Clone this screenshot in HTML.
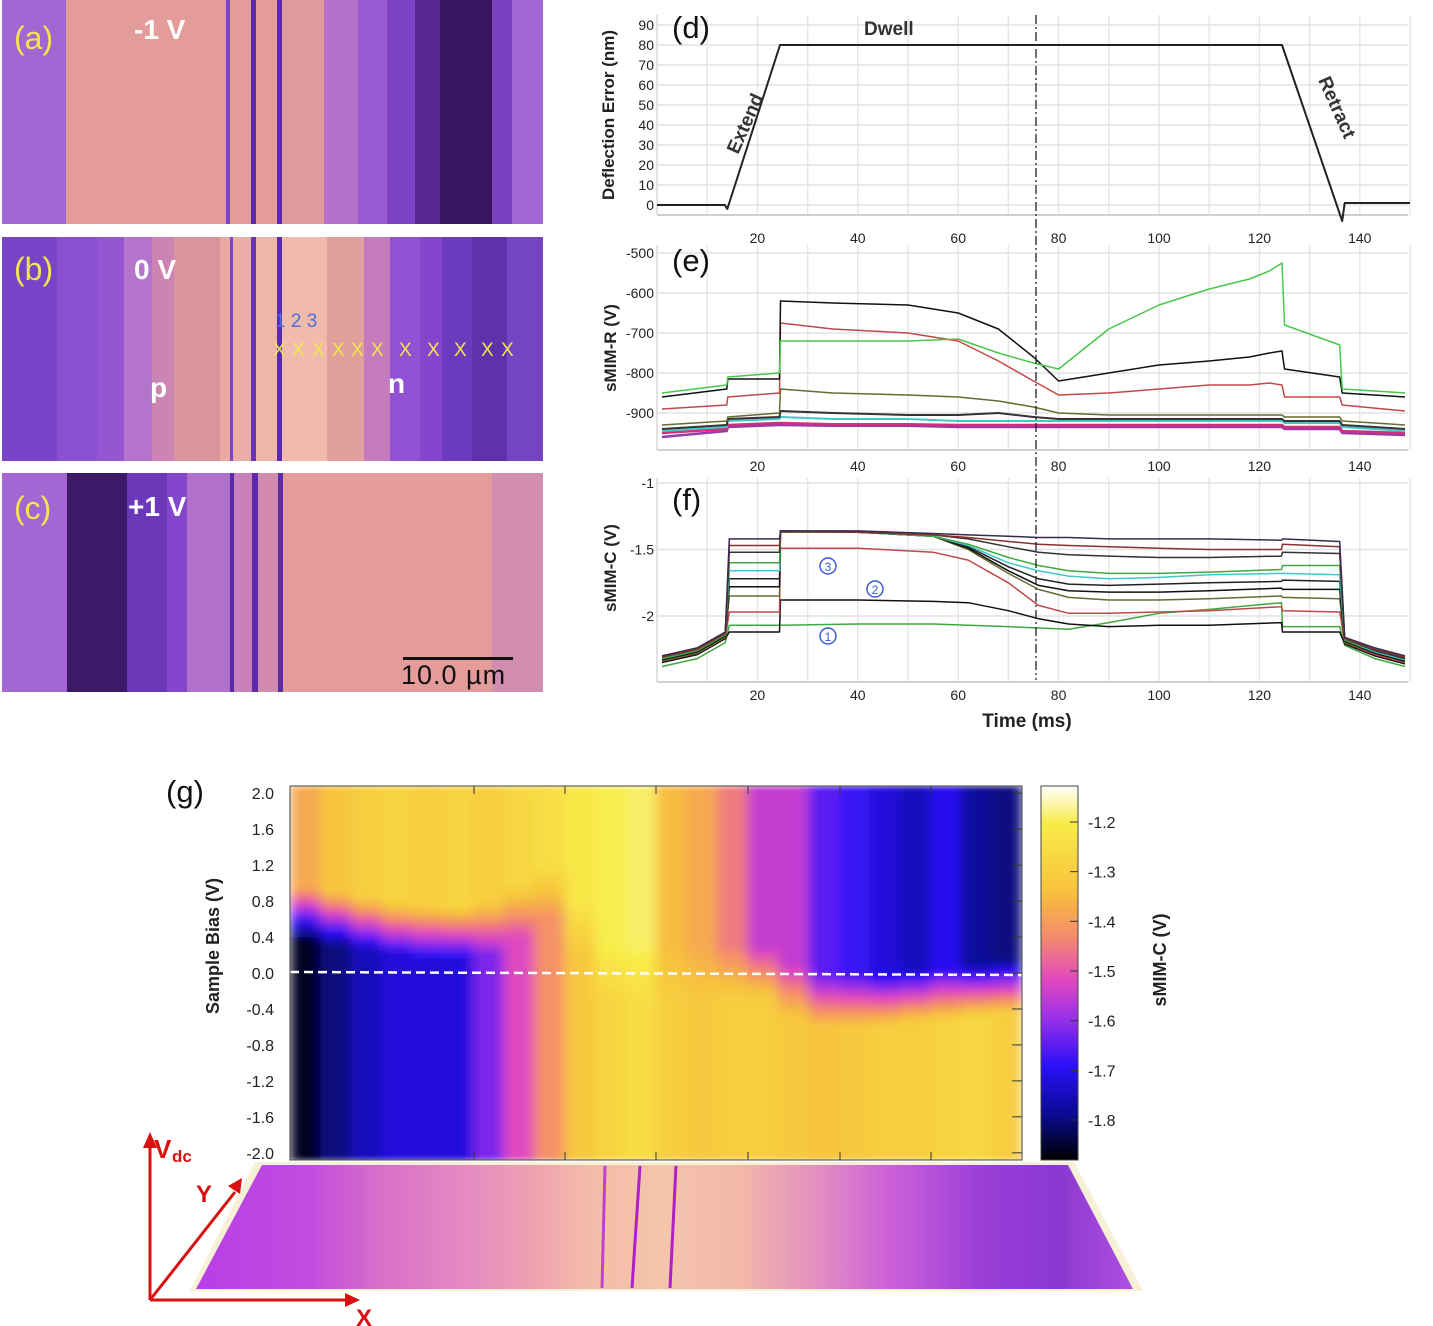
<!DOCTYPE html>
<html><head><meta charset="utf-8">
<style>
body{margin:0;background:#fff;}
#root{position:relative;width:1433px;height:1326px;overflow:hidden;font-family:"Liberation Sans",sans-serif;background:#fff;}
.img{position:absolute;left:2px;width:541px;}
.lbl{position:absolute;font-size:32px;color:#f3e64a;}
.wt{position:absolute;font-size:28px;font-weight:bold;color:#fff;}
.xm{position:absolute;top:340px;font-size:19px;color:#f3e64a;}
svg text{font-family:"Liberation Sans",sans-serif;}
</style></head><body>
<div id="root">
<div class="img" style="top:0;height:224px;background:linear-gradient(90deg,#a466d2 0,#a466d2 64px,#e39c9a 64px,#e39c9a 224px,#7b45c8 224px,#7b45c8 228px,#e39c9a 228px,#e39c9a 249px,#5a2aa8 249px,#5a2aa8 254px,#e39c9a 254px,#e39c9a 275px,#5a2aa8 275px,#5a2aa8 280px,#e09a9c 280px,#e09a9c 322px,#b472cc 322px,#b472cc 356px,#9a5ad4 356px,#9a5ad4 385px,#7e42c6 385px,#7e42c6 413px,#55278f 413px,#55278f 438px,#361660 438px,#361660 490px,#7a40c0 490px,#7a40c0 510px,#a466d2 510px);"></div>
<div class="img" style="top:237px;height:224px;background:linear-gradient(90deg,#7844c8 0,#7844c8 55px,#8a50d2 55px,#8a50d2 95px,#9656d2 95px,#9656d2 122px,#b474cc 122px,#b474cc 150px,#cc84b2 150px,#cc84b2 172px,#d9949e 172px,#d9949e 218px,#e9aaa4 218px,#e9aaa4 228px,#7b45c8 228px,#7b45c8 231px,#eaaea6 231px,#eaaea6 249px,#6a36b8 249px,#6a36b8 254px,#eeb6aa 254px,#eeb6aa 275px,#5a2aa8 275px,#5a2aa8 280px,#f1baae 280px,#f1baae 325px,#e0a09c 325px,#e0a09c 362px,#c47cbe 362px,#c47cbe 388px,#9052d2 388px,#9052d2 418px,#8446cc 418px,#8446cc 440px,#6c3abc 440px,#6c3abc 470px,#5e32aa 470px,#5e32aa 505px,#7444c2 505px);"></div>
<div class="img" style="top:473px;height:219px;background:linear-gradient(90deg,#a466d2 0,#a466d2 65px,#3c1a68 65px,#3c1a68 125px,#6a38b8 125px,#6a38b8 165px,#8446cc 165px,#8446cc 185px,#b070cc 185px,#b070cc 228px,#5a2aa8 228px,#5a2aa8 232px,#c880b8 232px,#c880b8 250px,#5a2aa8 250px,#5a2aa8 256px,#d28aae 256px,#d28aae 276px,#5a2aa8 276px,#5a2aa8 281px,#e39c9a 281px,#e39c9a 490px,#d28eb0 490px);"></div>
<div class="lbl" style="left:14px;top:20px;">(a)</div>
<div class="wt" style="left:134px;top:14px;">-1 V</div>
<div class="lbl" style="left:14px;top:251px;">(b)</div>
<div class="wt" style="left:134px;top:254px;">0 V</div>
<div class="wt" style="left:150px;top:372px;">p</div>
<div class="wt" style="left:388px;top:368px;">n</div>
<div style="position:absolute;left:275px;top:311px;font-size:19px;color:#4a70d8;white-space:pre;">1 2 3</div>
<div class="xm" style="left:273px;">X</div>
<div class="xm" style="left:292px;">X</div>
<div class="xm" style="left:312px;">X</div>
<div class="xm" style="left:332px;">X</div>
<div class="xm" style="left:351px;">X</div>
<div class="xm" style="left:371px;">X</div>
<div class="xm" style="left:399px;">X</div>
<div class="xm" style="left:427px;">X</div>
<div class="xm" style="left:454px;">X</div>
<div class="xm" style="left:481px;">X</div>
<div class="xm" style="left:501px;">X</div>
<div class="lbl" style="left:14px;top:490px;">(c)</div>
<div class="wt" style="left:128px;top:491px;">+1 V</div>
<div style="position:absolute;left:403px;top:657px;width:110px;height:3px;background:#111;"></div>
<div style="position:absolute;left:401px;top:660px;font-size:27px;letter-spacing:1px;color:#111;">10.0 µm</div>

<svg id="chart" width="1433" height="1326" style="position:absolute;left:0;top:0">
<defs>
<linearGradient id="cbar" x1="0" y1="0" x2="0" y2="1">
<stop offset="0" stop-color="#ffffff"/><stop offset="0.1" stop-color="#f8ec48"/><stop offset="0.28" stop-color="#f7c23c"/><stop offset="0.4" stop-color="#f58c6a"/><stop offset="0.52" stop-color="#e048c0"/><stop offset="0.62" stop-color="#9a30e8"/><stop offset="0.75" stop-color="#2a10f8"/><stop offset="0.88" stop-color="#0a0a90"/><stop offset="1" stop-color="#000000"/>
</linearGradient>
<linearGradient id="persp" x1="0" y1="0" x2="1" y2="0">
<stop offset="0" stop-color="#b83ee6"/><stop offset="0.12" stop-color="#c24ce0"/><stop offset="0.2" stop-color="#d870c8"/><stop offset="0.28" stop-color="#e488c4"/><stop offset="0.36" stop-color="#eea0b0"/><stop offset="0.42" stop-color="#f3bca8"/><stop offset="0.5" stop-color="#f5c4ac"/><stop offset="0.58" stop-color="#f2b8a8"/><stop offset="0.66" stop-color="#e490c0"/><stop offset="0.74" stop-color="#cc60d8"/><stop offset="0.84" stop-color="#9a3ed8"/><stop offset="0.92" stop-color="#8a38d0"/><stop offset="1" stop-color="#b050e0"/>
</linearGradient>
<filter id="soft" x="0" y="0" width="1" height="1"><feGaussianBlur stdDeviation="6 3" edgeMode="duplicate"/></filter>
<clipPath id="hclip"><rect x="290" y="786" width="732" height="374"/></clipPath>
</defs>
<g id="gD"></g><g id="gE"></g><g id="gF"></g><g id="gG"></g>
</svg>
</div>
<script>
const NS='http://www.w3.org/2000/svg';
function mk(parent,tag,attrs,text){const e=document.createElementNS(NS,tag);for(const k in attrs)e.setAttribute(k,attrs[k]);if(text!==undefined)e.textContent=text;parent.appendChild(e);return e;}

// ---------- data ----------
const timeTicks=[20,40,60,80,100,120,140];
const dTicks=[0,10,20,30,40,50,60,70,80,90];
const eTicks=[-500,-600,-700,-800,-900];
const fTicks=[-1,-1.5,-2];
const dTime=[0,13.5,14,24.5,124.5,136.5,137,150];
const dDefl=[0,0,-2,80,80,-8,1,1];
const eTime=[1,13.9,14.1,24.4,24.6,35,50,60,68,75,80,90,100,110,118,122,124.5,125,136,136.5,149];
const eGreen=[-850,-830,-810,-800,-720,-720,-720,-715,-750,-775,-790,-690,-630,-590,-565,-545,-525,-680,-730,-840,-850];
const eBlack=[-860,-840,-815,-815,-620,-625,-630,-650,-690,-760,-820,-800,-780,-770,-760,-750,-745,-790,-810,-850,-860];
const eRed=[-890,-880,-860,-850,-675,-690,-700,-720,-770,-820,-855,-850,-840,-830,-830,-825,-830,-860,-860,-880,-895];
const eOlive=[-930,-920,-910,-900,-840,-850,-855,-860,-870,-885,-900,-905,-905,-905,-905,-905,-905,-910,-910,-920,-930];
const eGray=[-940,-930,-915,-910,-895,-900,-905,-905,-900,-910,-915,-915,-915,-915,-915,-915,-915,-920,-920,-930,-940];
const eCyan=[-945,-935,-920,-915,-910,-915,-915,-920,-920,-920,-920,-920,-920,-920,-920,-920,-920,-925,-925,-935,-945];
const eMagenta=[-950,-940,-930,-925,-925,-928,-928,-930,-930,-930,-930,-930,-930,-930,-930,-930,-930,-935,-935,-945,-950];
const ePurple=[-960,-945,-935,-930,-930,-932,-932,-935,-935,-935,-935,-935,-935,-935,-935,-935,-935,-940,-940,-950,-955];
const fTime=[1,8,13.6,14.4,24.4,24.6,40,55,62,70,76,82,90,100,110,124.4,124.6,136,137,143,149];
const fA=[-2.3,-2.24,-2.12,-1.42,-1.42,-1.36,-1.36,-1.38,-1.39,-1.4,-1.41,-1.41,-1.42,-1.42,-1.42,-1.43,-1.42,-1.44,-2.16,-2.24,-2.3];
const fB=[-2.31,-2.25,-2.13,-1.47,-1.47,-1.36,-1.37,-1.39,-1.41,-1.44,-1.46,-1.47,-1.48,-1.49,-1.5,-1.5,-1.46,-1.48,-2.17,-2.25,-2.31];
const fC=[-2.31,-2.25,-2.13,-1.52,-1.52,-1.36,-1.37,-1.39,-1.42,-1.48,-1.52,-1.54,-1.55,-1.56,-1.56,-1.55,-1.52,-1.53,-2.17,-2.26,-2.32];
const fD=[-2.32,-2.26,-2.14,-1.6,-1.6,-1.36,-1.37,-1.4,-1.46,-1.56,-1.62,-1.66,-1.68,-1.68,-1.67,-1.65,-1.62,-1.62,-2.18,-2.26,-2.32];
const fE=[-2.32,-2.26,-2.14,-1.66,-1.66,-1.36,-1.37,-1.4,-1.47,-1.6,-1.66,-1.7,-1.72,-1.71,-1.69,-1.68,-1.68,-1.69,-2.18,-2.27,-2.33];
const fF=[-2.33,-2.27,-2.15,-1.72,-1.72,-1.36,-1.37,-1.4,-1.48,-1.63,-1.72,-1.76,-1.77,-1.76,-1.75,-1.74,-1.73,-1.74,-2.19,-2.27,-2.33];
const fG=[-2.33,-2.27,-2.15,-1.78,-1.78,-1.36,-1.37,-1.4,-1.49,-1.66,-1.77,-1.81,-1.82,-1.82,-1.81,-1.79,-1.8,-1.8,-2.19,-2.28,-2.34];
const fH=[-2.34,-2.28,-2.16,-1.85,-1.85,-1.37,-1.37,-1.4,-1.5,-1.68,-1.8,-1.86,-1.88,-1.88,-1.87,-1.85,-1.86,-1.87,-2.2,-2.28,-2.34];
const fI=[-2.34,-2.28,-2.16,-1.97,-1.97,-1.49,-1.49,-1.52,-1.58,-1.75,-1.92,-1.98,-1.98,-1.97,-1.96,-1.93,-1.96,-1.97,-2.2,-2.29,-2.35];
const fJ=[-2.35,-2.29,-2.17,-2.12,-2.12,-1.88,-1.88,-1.89,-1.9,-1.96,-2.02,-2.06,-2.08,-2.07,-2.07,-2.05,-2.12,-2.12,-2.21,-2.3,-2.36];
const fK=[-2.38,-2.32,-2.2,-2.07,-2.07,-2.07,-2.06,-2.06,-2.07,-2.08,-2.09,-2.1,-2.05,-1.98,-1.95,-1.9,-2.08,-2.08,-2.22,-2.32,-2.38];
const gTicks=[2.0,1.6,1.2,0.8,0.4,0.0,-0.4,-0.8,-1.2,-1.6,-2.0];
const gTickLabels=['2.0','1.6','1.2','0.8','0.4','0.0','-0.4','-0.8','-1.2','-1.6','-2.0'];
const cbTicks=[-1.2,-1.3,-1.4,-1.5,-1.6,-1.7,-1.8];
const gUpper=[-1.38,-1.33,-1.3,-1.28,-1.3,-1.28,-1.3,-1.27,-1.25,-1.22,-1.2,-1.19,-1.35,-1.38,-1.45,-1.55,-1.55,-1.65,-1.68,-1.72,-1.75,-1.7,-1.78,-1.8];
const gLower=[-1.86,-1.8,-1.75,-1.72,-1.72,-1.72,-1.62,-1.52,-1.42,-1.32,-1.28,-1.25,-1.3,-1.32,-1.3,-1.3,-1.32,-1.33,-1.32,-1.3,-1.3,-1.28,-1.27,-1.3];
const gThresh=[0.65,0.6,0.55,0.5,0.45,0.45,0.5,0.7,0.9,0.5,0,0,0,0,0,0,-0.2,-0.3,-0.3,-0.3,-0.25,-0.25,-0.2,-0.15];

// ---------- axes ----------
const X0=657,X1=1408;
const xT=t=>657+t*5.02;
const yD=v=>205-v*2;
const yE=v=>253+(-500-v)*0.4;
const yF=v=>483+(-1-v)*133;

function panelFrame(g,top,bot,ticks,yf,fmt,lblY){
  for(let t=10;t<=150;t+=10){const l=mk(g,'line',{x1:xT(t),x2:xT(t),y1:top,y2:bot,stroke:'#e6e6e6','stroke-width':1.5});}
  ticks.forEach(v=>{const l=mk(g,'line',{x1:X0,x2:X1,y1:yf(v),y2:yf(v),stroke:'#e2e2e2','stroke-width':1.5});
    const tx=mk(g,'text',{x:654,y:yf(v)+5,'text-anchor':'end','font-size':14,fill:'#222'},fmt(v));});
  const ax=mk(g,'line',{x1:X0,x2:X1,y1:bot,y2:bot,stroke:'#cfcfcf','stroke-width':2});
  const ay=mk(g,'line',{x1:X0,x2:X0,y1:top,y2:bot,stroke:'#d8d8d8','stroke-width':1.5});
  timeTicks.forEach(t=>{const tx=mk(g,'text',{x:xT(t),y:lblY,'text-anchor':'middle','font-size':14,fill:'#222'},t);});
}
function trace(g,ts,vs,yf,col,w,name){
  const d=ts.map((t,i)=>(i?'L':'M')+xT(t).toFixed(1)+','+yf(vs[i]).toFixed(1)).join('');
  const p=mk(g,'path',{d:d,fill:'none',stroke:col,'stroke-width':w||1.3,'stroke-linejoin':'round'});
  
}
// panel d
const gD=document.getElementById('gD');
panelFrame(gD,15,215,dTicks,yD,v=>v,243);
trace(gD,dTime,dDefl,yD,'#222',2,'deflection-trace');
let t;
t=mk(gD,'text',{x:672,y:38,'font-size':31,fill:'#111'},'(d)');
t=mk(gD,'text',{x:864,y:35,'font-size':19,'font-weight':'bold',fill:'#333'},'Dwell');
t=mk(gD,'text',{x:0,y:0,'font-size':19,'font-weight':'bold',fill:'#333',transform:'translate(738,155) rotate(-66)'},'Extend');
t=mk(gD,'text',{x:0,y:0,'font-size':19,'font-weight':'bold',fill:'#333',transform:'translate(1318,80) rotate(66)'},'Retract');
t=mk(gD,'text',{x:0,y:0,'font-size':17,'font-weight':'bold',fill:'#222','text-anchor':'middle',transform:'translate(614,115) rotate(-90)'},'Deflection Error (nm)');
// panel e
const gE=document.getElementById('gE');
panelFrame(gE,245,450,eTicks,yE,v=>v,471);
trace(gE,eTime,ePurple,yE,'#9a3aa8',2.5,'r-trace-purple');
trace(gE,eTime,eMagenta,yE,'#d0307a',2.5,'r-trace-magenta');
trace(gE,eTime,eCyan,yE,'#40c8c8',2,'r-trace-cyan');
trace(gE,eTime,eGray,yE,'#333',2,'r-trace-gray');
trace(gE,eTime,eOlive,yE,'#6a6a30',1.5,'r-trace-olive');
trace(gE,eTime,eRed,yE,'#c04848',1.5,'r-trace-red');
trace(gE,eTime,eBlack,yE,'#111',1.5,'r-trace-black');
trace(gE,eTime,eGreen,yE,'#48c848',1.5,'r-trace-green');
t=mk(gE,'text',{x:672,y:271,'font-size':31,fill:'#111'},'(e)');
t=mk(gE,'text',{x:0,y:0,'font-size':17,'font-weight':'bold',fill:'#222','text-anchor':'middle',transform:'translate(616,348) rotate(-90)'},'sMIM-R (V)');
// panel f
const gF=document.getElementById('gF');
panelFrame(gF,478,682,fTicks,yF,v=>v,700);
[[fK,'#40a840'],[fJ,'#111'],[fI,'#c04848'],[fH,'#6a6a30'],[fG,'#111'],[fF,'#222'],[fE,'#40c8c8'],[fD,'#40a840'],[fC,'#333'],[fB,'#8a3030'],[fA,'#3a2a50']].forEach((p,i)=>trace(gF,fTime,p[0],yF,p[1],1.5,'c-trace-'+i));
t=mk(gF,'text',{x:672,y:510,'font-size':31,fill:'#111'},'(f)');
t=mk(gF,'text',{x:0,y:0,'font-size':17,'font-weight':'bold',fill:'#222','text-anchor':'middle',transform:'translate(616,568) rotate(-90)'},'sMIM-C (V)');
t=mk(gF,'text',{x:1027,y:727,'font-size':19,'font-weight':'bold',fill:'#222','text-anchor':'middle'},'Time (ms)');
[['1',828,636],['2',875,589],['3',828,566]].forEach(c=>{
  const ci=mk(gF,'circle',{cx:c[1],cy:c[2],r:8,fill:'#fff',stroke:'#3a5ad8','stroke-width':1.5});
  const tx=mk(gF,'text',{x:c[1],y:c[2]+5,'font-size':12,fill:'#3a5ad8','text-anchor':'middle'},c[0]);
});
const dl=mk(gF,'line',{x1:xT(75.5),x2:xT(75.5),y1:15,y2:680,stroke:'#222','stroke-width':1.3,'stroke-dasharray':'9,3,2,3'});


// ---------- panel g heatmap ----------
const gG=document.getElementById('gG');
const HX0=290,HX1=1022,HY0=786,HY1=1160;
const yB=v=>HY0+(2.08-v)/4.16*(HY1-HY0);
const cbY=v=>822+(v+1.2)/-0.6*298;
const cstops=[[0,[255,255,255]],[0.1,[248,236,72]],[0.28,[247,194,60]],[0.4,[245,140,106]],[0.52,[224,72,192]],[0.62,[154,48,232]],[0.75,[42,16,248]],[0.88,[10,10,144]],[1,[0,0,0]]];
function cmap(v){let f=(cbY(v)-786)/(1160-786);f=Math.max(0,Math.min(1,f));
  for(let i=1;i<cstops.length;i++){if(f<=cstops[i][0]){const a=cstops[i-1],b=cstops[i],u=(f-a[0])/(b[0]-a[0]);return 'rgb('+a[1].map((c,k)=>Math.round(c+(b[1][k]-c)*u)).join(',')+')';}}return '#000';}
const hwrap=mk(gG,'g',{'clip-path':'url(#hclip)'});
const hcells=mk(hwrap,'g',{filter:'url(#soft)'});
const nRows=52,cw=(HX1-HX0)/gUpper.length,rh=(HY1-HY0)/nRows;
gUpper.forEach((u,ci)=>{
  for(let r=0;r<nRows;r++){
    const bias=2.08-(r+0.5)/nRows*4.16;
    let s=(bias-gThresh[ci])/0.3;s=Math.max(-1,Math.min(1,s));const w=(s+1)/2;
    const v=gLower[ci]+(u-gLower[ci])*w;
    const rc=mk(hcells,'rect',{x:(HX0+ci*cw).toFixed(1),y:(HY0+r*rh).toFixed(1),width:(cw+0.6).toFixed(1),height:(rh+0.6).toFixed(1),fill:cmap(v)});
    
  }
});
gTicks.forEach((v,i)=>{
  const tx=mk(gG,'text',{x:274,y:yB(v)+6,'text-anchor':'end','font-size':16,fill:'#222'},gTickLabels[i]);
  const tk=mk(gG,'line',{x1:HX1-10,x2:HX1,y1:yB(v),y2:yB(v),stroke:'#333','stroke-width':1});
});
[474,565,656,748,840,931].forEach(x=>{const tk=mk(gG,'line',{x1:x,x2:x,y1:HY0,y2:HY0+8,stroke:'#333'});
  const tb=mk(gG,'line',{x1:x,x2:x,y1:HY1-8,y2:HY1,stroke:'#333'});});
const zl=mk(gG,'line',{x1:HX0,x2:HX1,y1:yB(0)-1,y2:yB(0)+2,stroke:'#fff','stroke-width':2.5,'stroke-dasharray':'9,5'});
const hb=mk(gG,'rect',{x:HX0,y:HY0,width:HX1-HX0,height:HY1-HY0,fill:'none',stroke:'#444','stroke-width':1});
t=mk(gG,'text',{x:0,y:0,'font-size':18,'font-weight':'bold',fill:'#222','text-anchor':'middle',transform:'translate(219,946) rotate(-90)'},'Sample Bias (V)');
t=mk(gG,'text',{x:166,y:802,'font-size':31,fill:'#111'},'(g)');
const cb=mk(gG,'rect',{x:1041,y:786,width:37,height:374,fill:'url(#cbar)',stroke:'#444','stroke-width':1});
cbTicks.forEach(v=>{const tx=mk(gG,'text',{x:1088,y:cbY(v)+6,'font-size':16,fill:'#222'},v.toFixed(1));
  const tk=mk(gG,'line',{x1:1070,x2:1078,y1:cbY(v),y2:cbY(v),stroke:'#333'});});
t=mk(gG,'text',{x:0,y:0,'font-size':18,'font-weight':'bold',fill:'#222','text-anchor':'middle',transform:'translate(1166,960) rotate(-90)'},'sMIM-C (V)');
// perspective image
const pb=mk(gG,'polygon',{points:'255,1162 1074,1162 1143,1291 190,1291',fill:'#f6f0d6'});
const pp=mk(gG,'polygon',{points:'262,1165 1068,1165 1133,1289 196,1289',fill:'url(#persp)'});
[[640,632,'#b020c8'],[676,670,'#b020c8'],[605,602,'#c040d0']].forEach(l=>{const ln=mk(gG,'line',{x1:l[0],y1:1166,x2:l[1],y2:1288,stroke:l[2],'stroke-width':3});});
// red axes
const red='#d81010';
[[150,1300,150,1145],[150,1300,350,1300],[150,1300,235,1192]].forEach((a,i)=>{const ln=mk(gG,'line',{x1:a[0],y1:a[1],x2:a[2],y2:a[3],stroke:red,'stroke-width':3});});
[['143,1148 157,1148 150,1132'],['345,1293 345,1307 360,1300'],['228,1186 240,1194 242,1178']].forEach(p=>{const h=mk(gG,'polygon',{points:p[0],fill:red});});
t=mk(gG,'text',{x:154,y:1158,'font-size':26,'font-weight':'bold',fill:red},'V');
t=mk(gG,'text',{x:172,y:1162,'font-size':17,'font-weight':'bold',fill:red},'dc');
t=mk(gG,'text',{x:196,y:1202,'font-size':24,'font-weight':'bold',fill:red},'Y');
t=mk(gG,'text',{x:356,y:1326,'font-size':24,'font-weight':'bold',fill:red},'X');
</script>
</body></html>
